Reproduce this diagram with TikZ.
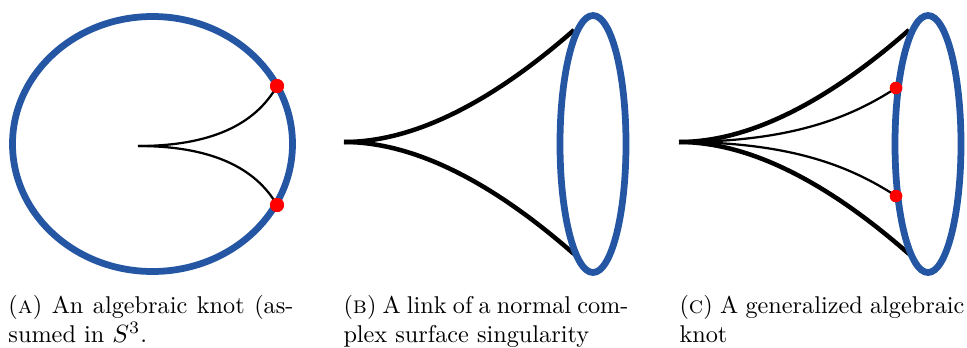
\documentclass[tikz,border=0pt]{standalone}
\usetikzlibrary{shapes.geometric}
\definecolor{knotblue}{RGB}{36,86,163}
\definecolor{dotred}{RGB}{255,0,0}
\begin{document}
\begin{tikzpicture}[x=0.4pt,y=-0.4pt,
  linkline/.style={draw=knotblue,line width=2.7pt},
  thickcurve/.style={draw=black,line width=1.8pt},
  thincurve/.style={draw=black,line width=0.9pt},
  reddot/.style={circle,fill=dotred,inner sep=0pt,minimum size=#1},
  reddot/.default=5.6pt,
  captiontext/.style={anchor=north west,align=justify,inner sep=0pt,
    text width=114pt,font=\fontsize{9.7}{11.6}\selectfont}]
\useasboundingbox (0,0) rectangle (967,347);

% ---------- Panel A ----------
\draw[linkline] (152.5,144) ellipse [x radius=140, y radius=127.5];
\coordinate (cA) at (138,146);
\node[reddot] (dA1) at (277,86) {};
\node[reddot] (dA2) at (277,205) {};
\draw[thincurve] (cA) .. controls (210,146) and (255,125) .. (dA1.center);
\draw[thincurve] (cA) .. controls (210,146) and (255,167) .. (dA2.center);
\node[reddot] at (dA1) {};
\node[reddot] at (dA2) {};

% ---------- Panel B ----------
\coordinate (cB) at (344,142);
\coordinate (eB1) at (574,30);
\coordinate (eB2) at (574,254);
\draw[thickcurve] (cB) .. controls (420,142) and (500,95) .. (eB1);
\draw[thickcurve] (cB) .. controls (420,142) and (500,189) .. (eB2);
\draw[linkline] (593,144) ellipse [x radius=33, y radius=128.5];

% ---------- Panel C ----------
\coordinate (cC) at (679,142);
\coordinate (eC1) at (909,30);
\coordinate (eC2) at (909,254);
\node[reddot=5pt] (dC1) at (896,88) {};
\node[reddot=5pt] (dC2) at (896,196) {};
\draw[thickcurve] (cC) .. controls (755,142) and (835,95) .. (eC1);
\draw[thickcurve] (cC) .. controls (755,142) and (835,189) .. (eC2);
\draw[thincurve] (cC) .. controls (790,142) and (850,118) .. (dC1.center);
\draw[thincurve] (cC) .. controls (790,142) and (850,166) .. (dC2.center);
\draw[linkline] (928,144) ellipse [x radius=33, y radius=128.5];
\node[reddot=5pt] at (dC1) {};
\node[reddot=5pt] at (dC2) {};

% ---------- Captions ----------
\node[captiontext] (capA) at (8,295)
  {(\textsc{a}) An algebraic knot (as-\linebreak sumed in $S^3$.};
\node[captiontext] (capB) at (343,295)
  {(\textsc{b}) A link of a normal com-\linebreak plex surface singularity};
\node[captiontext] (capC) at (679,295)
  {(\textsc{c}) A generalized algebraic\linebreak knot};
\end{tikzpicture}
\end{document}
